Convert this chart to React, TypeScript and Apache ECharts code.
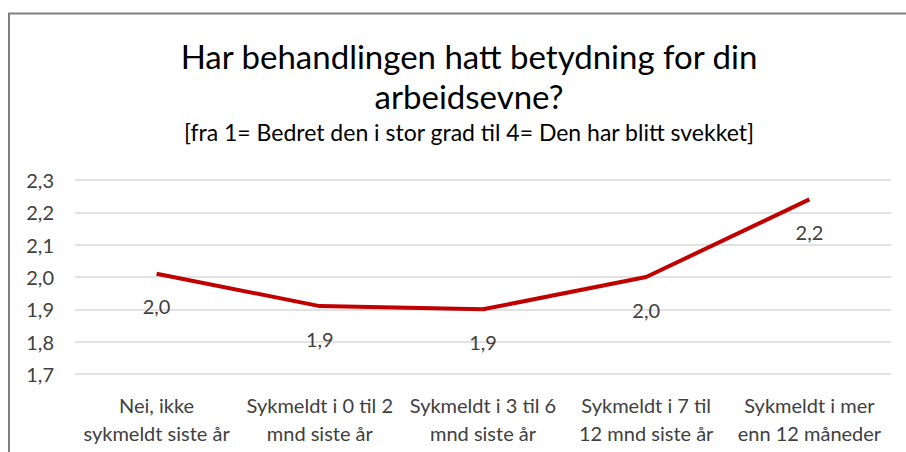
import React, { useEffect, useRef } from "react";
import * as echarts from "echarts";

const titleLines = ["Har behandlingen hatt betydning for din", "arbeidsevne?"];
const subtitle = "[fra 1= Bedret den i stor grad til 4= Den har blitt svekket]";
const categories = [
  "Nei, ikke\nsykmeldt siste år",
  "Sykmeldt i 0 til 2\nmnd siste år",
  "Sykmeldt i 3 til 6\nmnd siste år",
  "Sykmeldt i 7 til\n12 mnd siste år",
  "Sykmeldt i mer\nenn 12 måneder",
];
const values = [2.01, 1.91, 1.9, 2.0, 2.24];
const yMin = 1.7;
const yMax = 2.3;
const yStep = 0.1;

const FONT = "Lato, 'Open Sans', sans-serif";

export default function App() {
  const ref = useRef<HTMLDivElement>(null);
  useEffect(() => {
    if (!ref.current) return;
    const chart = echarts.init(ref.current, undefined, { renderer: "svg" });
    chart.setOption({
      animation: false,
      backgroundColor: "#ffffff",
      title: {
        text: titleLines.join("\n"),
        subtext: subtitle,
        left: 464,
        top: 31,
        textAlign: "center",
        itemGap: 3,
        textStyle: {
          fontFamily: FONT,
          fontSize: 33,
          fontWeight: "normal",
          color: "#000000",
          lineHeight: 40,
        },
        subtextStyle: {
          fontFamily: FONT,
          fontSize: 23,
          color: "#000000",
          lineHeight: 26,
        },
      },
      graphic: [
        {
          type: "rect",
          shape: { x: 9, y: 13.5, width: 1000, height: 1000 },
          style: { fill: "none", stroke: "#7f7f7f", lineWidth: 2 },
          silent: true,
        },
      ],
      grid: { left: 75, right: 15, top: 180, bottom: 78, containLabel: false },
      xAxis: {
        type: "category",
        data: categories,
        boundaryGap: true,
        axisLine: { show: false },
        axisTick: { show: false },
        axisLabel: {
          interval: 0,
          margin: 17,
          fontFamily: FONT,
          fontSize: 20,
          color: "#404040",
          lineHeight: 28,
        },
      },
      yAxis: {
        type: "value",
        min: yMin,
        max: yMax,
        interval: yStep,
        axisLine: { show: false },
        axisTick: { show: false },
        splitLine: { lineStyle: { color: "#d9d9d9", width: 1.5 } },
        axisLabel: {
          margin: 21,
          fontFamily: FONT,
          fontSize: 20,
          color: "#404040",
          formatter: (v: number) => v.toFixed(1).replace(".", ","),
        },
      },
      series: [
        {
          type: "line",
          data: values,
          symbol: "circle",
          symbolSize: 1,
          showSymbol: true,
          itemStyle: { color: "rgba(0,0,0,0)" },
          lineStyle: { color: "#c00000", width: 4 },
          label: {
            show: true,
            position: "bottom",
            distance: 22,
            fontFamily: FONT,
            fontSize: 20,
            color: "#404040",
            formatter: (p: any) => Number(p.value).toFixed(1).replace(".", ","),
          },
        },
      ],
    });
    return () => chart.dispose();
  }, []);
  return (
    <div
      ref={ref}
      style={{ position: "fixed", left: 0, top: 0, width: 906, height: 452 }}
    />
  );
}
